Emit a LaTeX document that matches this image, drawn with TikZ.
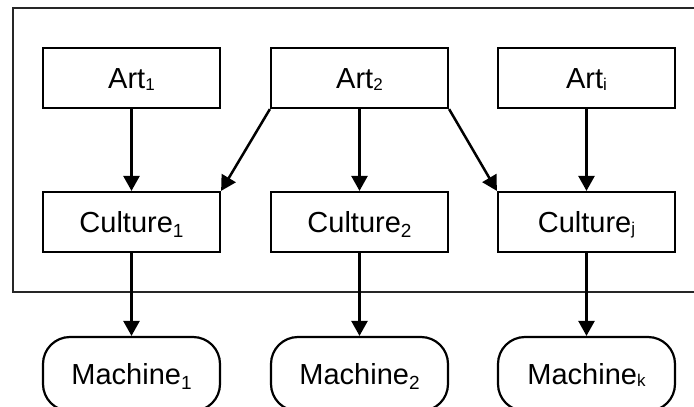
\documentclass[tikz,border=0pt]{standalone}
\usepackage{fontspec}
\setmainfont{Liberation Sans}
\usetikzlibrary{arrows.meta}
\newcommand{\bigsub}[1]{\raisebox{-5pt}{\fontsize{19}{19}\selectfont #1}}
\newcommand{\smallsub}[1]{\raisebox{-2pt}{\fontsize{17}{17}\selectfont #1}}
\tikzset{
    box/.style={draw, line width=2.2pt, minimum width=177pt, minimum height=60pt,
        inner sep=0pt, text height=20.5pt, text depth=0pt,
        font=\fontsize{29}{34}\selectfont},
    machbox/.style={box, rounded corners=27pt, minimum height=74pt},
    arr/.style={line width=2.5pt, -{Triangle[width=16pt,length=15pt]}}
}
\begin{document}
\begin{tikzpicture}[x=1pt, y=-1pt]
    \useasboundingbox (0,0) rectangle (694,407);
    \draw[line width=1.5pt, black!85] (700,8) -- (13,8) -- (13,292) -- (700,292);
    \node[box] (art1) at (131.5,78) {Art\smallsub{1}};
    \node[box] (art2) at (359.5,78) {Art\smallsub{2}};
    \node[box] (arti) at (586.5,78) {Art\smallsub{i}};
    \node[box] (cult1) at (131.5,222) {Culture\bigsub{1}};
    \node[box] (cult2) at (359.5,222) {Culture\bigsub{2}};
    \node[box] (cultj) at (586.5,222) {Culture\smallsub{j}};
    \node[machbox] (mach1) at (131.5,374) {Machine\bigsub{1}};
    \node[machbox] (mach2) at (359.5,374) {Machine\bigsub{2}};
    \node[machbox] (machk) at (586.5,374) {Machine\smallsub{k}};
    \draw[arr] (art1) -- (cult1);
    \draw[arr] (art2) -- (cult2);
    \draw[arr] (arti) -- (cultj);
    \draw[arr] (art2.south west) -- (cult1.north east);
    \draw[arr] (art2.south east) -- (cultj.north west);
    \draw[arr] (cult1) -- (mach1);
    \draw[arr] (cult2) -- (mach2);
    \draw[arr] (cultj) -- (machk);
\end{tikzpicture}
\end{document}
